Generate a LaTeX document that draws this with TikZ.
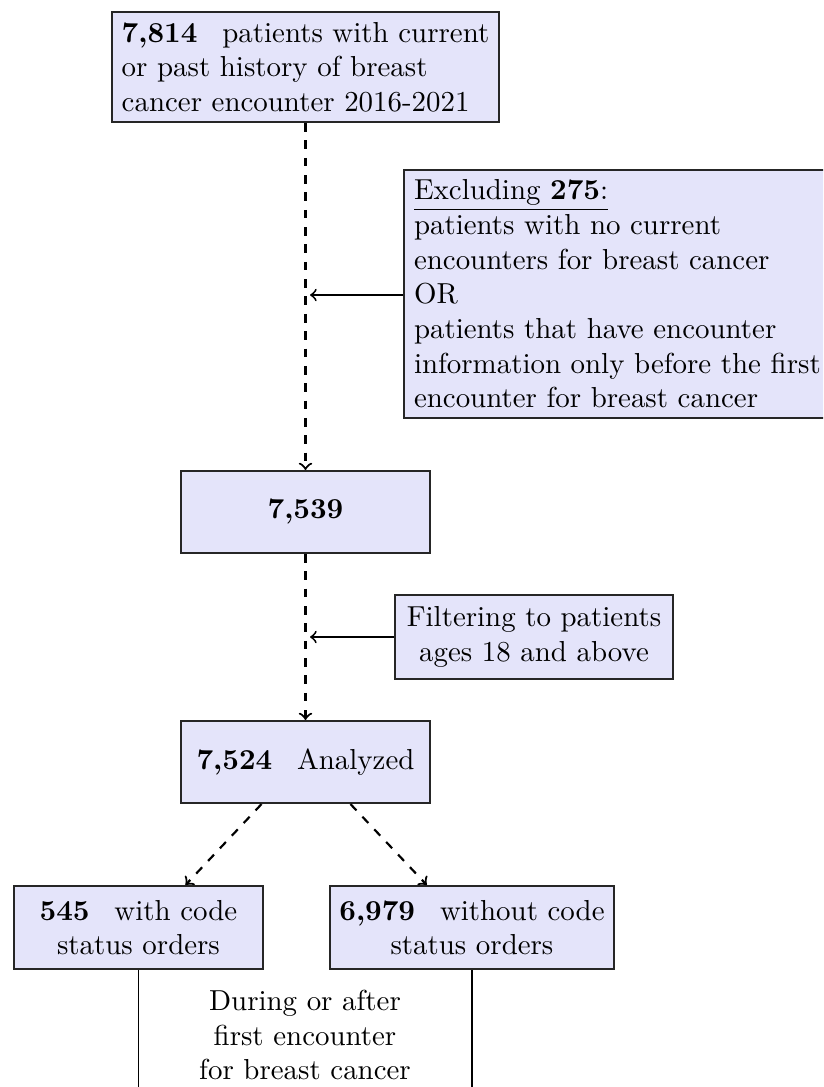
\documentclass[tikz,border=0pt]{standalone}
\usetikzlibrary{calc}
\definecolor{boxfill}{RGB}{228,228,250}
\begin{document}
\begin{tikzpicture}[x=0.346pt,y=-0.346pt,
  font=\fontsize{10}{12}\selectfont,
  box/.style={draw=black!85, fill=boxfill, line width=0.7pt, inner sep=0pt},
  flow/.style={dashed, line width=0.75pt, ->},
  side/.style={line width=0.65pt, ->},
  plain/.style={line width=0.4pt}]
\useasboundingbox (0,0) rectangle (823,1087);
\clip (0,0) rectangle (823,1087);

\node[box, minimum width=134.2pt, minimum height=38.1pt, align=left] (n1) at (305.5,67)
  {\textbf{7,814}\hspace{5.3pt} patients with current\\or past history of breast\\cancer encounter 2016-2021};

\node[box, anchor=west, inner xsep=3.46pt, text width=146.4pt, minimum height=85.8pt, align=left] (ex) at (403,294)
  {\underline{Excluding \textbf{275}:}\\patients with no current\\encounters for breast cancer\\OR\\patients that have encounter\\information only before the first\\encounter for breast cancer};

\node[box, minimum width=86.2pt, minimum height=28.4pt] (b2) at (305.5,512) {\textbf{7,539}};

\node[box, minimum width=96.2pt, minimum height=29.1pt, align=center] (fl) at (534,637)
  {Filtering to patients\\ages 18 and above};

\node[box, minimum width=86.2pt, minimum height=28.4pt] (b3) at (305.5,762)
  {\textbf{7,524}\hspace{5.3pt} Analyzed};

\node[box, minimum width=86.2pt, minimum height=28.7pt, align=center] (b4) at (138.5,927.5)
  {\textbf{545}\hspace{5.3pt} with code\\status orders};

\node[box, minimum width=98.3pt, minimum height=28.7pt, align=center] (b5) at (472,927.5)
  {\textbf{6,979}\hspace{5.3pt} without code\\status orders};

\node[align=center, inner sep=0pt] (note) at (305,1035)
  {During or after\\first encounter\\for breast cancer};

\coordinate (t1) at (310,295);
\coordinate (t2) at (310,637);
\coordinate (bot) at (0,1095);

\draw[flow] (n1.south) -- (b2.north);
\draw[flow] (b2.south) -- (b3.north);
\draw[side] (ex.west |- t1) -- (t1);
\draw[side] (fl.west |- t2) -- (t2);
\draw[flow] ($(b3.south west)!0.325!(b3.south east)$) -- ($(b4.north west)!0.687!(b4.north east)$);
\draw[flow] ($(b3.south west)!0.679!(b3.south east)$) -- ($(b5.north west)!0.342!(b5.north east)$);
\draw[plain] (b4.south) -- (b4.south |- bot);
\draw[plain] (b5.south) -- (b5.south |- bot);
\end{tikzpicture}
\end{document}
